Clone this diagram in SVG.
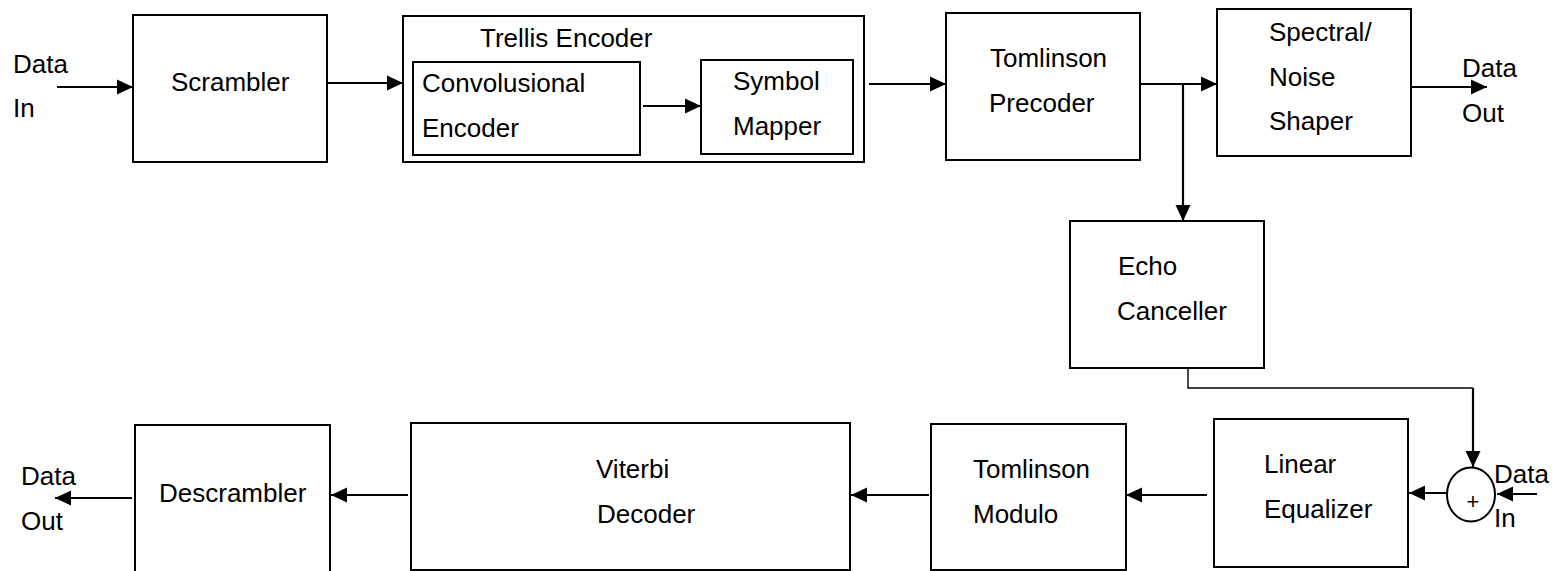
<svg xmlns="http://www.w3.org/2000/svg" width="1552" height="571" viewBox="0 0 1552 571">
  <style>
    .box { fill: #fff; stroke: #000; stroke-width: 2; }
    .lbl { font-family: "Liberation Sans", Arial, sans-serif; font-size: 26px; fill: #000; }
    .wire { fill: none; stroke: #000; stroke-width: 2.2; }
    .thin { fill: none; stroke: #000; stroke-width: 1.4; }
    .arr { marker-end: url(#head); }
  </style>
  <defs>
    <marker id="head" markerUnits="userSpaceOnUse" markerWidth="17" markerHeight="16" refX="16" refY="8" orient="auto">
      <path d="M0,0.5 L16,8 L0,15.5 z" fill="#000"/>
    </marker>
  </defs>
  <rect width="1552" height="571" fill="#fff"/>

  <!-- transmit path -->
  <g id="data-in-top">
    <text class="lbl" x="13" y="73">Data</text>
    <text class="lbl" x="13" y="117">In</text>
  </g>
  <g id="scrambler">
    <rect class="box" x="133" y="15" width="194" height="147"/>
    <text class="lbl" x="171" y="91">Scrambler</text>
  </g>
  <g id="trellis-encoder">
    <rect class="box" x="403" y="16" width="461" height="146"/>
    <text class="lbl" x="480" y="47">Trellis Encoder</text>
  </g>
  <g id="convolutional-encoder">
    <rect class="box" x="413" y="62" width="227" height="93"/>
    <text class="lbl" x="422" y="92">Convolusional</text>
    <text class="lbl" x="422" y="137">Encoder</text>
  </g>
  <g id="symbol-mapper">
    <rect class="box" x="701" y="60" width="152" height="94"/>
    <text class="lbl" x="733" y="90">Symbol</text>
    <text class="lbl" x="733" y="135">Mapper</text>
  </g>
  <g id="tomlinson-precoder">
    <rect class="box" x="946" y="13" width="194" height="147"/>
    <text class="lbl" x="990" y="67">Tomlinson</text>
    <text class="lbl" x="989" y="112">Precoder</text>
  </g>
  <g id="spectral-shaper">
    <rect class="box" x="1217" y="9" width="194" height="147"/>
    <text class="lbl" x="1269" y="41">Spectral/</text>
    <text class="lbl" x="1269" y="86">Noise</text>
    <text class="lbl" x="1269" y="130">Shaper</text>
  </g>
  <g id="data-out-top">
    <text class="lbl" x="1462" y="77">Data</text>
    <text class="lbl" x="1462" y="122">Out</text>
  </g>
  <g id="echo-canceller">
    <rect class="box" x="1070" y="221" width="194" height="147"/>
    <text class="lbl" x="1118" y="275">Echo</text>
    <text class="lbl" x="1117" y="320">Canceller</text>
  </g>

  <!-- receive path -->
  <g id="summer">
    <ellipse cx="1471" cy="494.5" rx="24" ry="27" fill="#fff" stroke="#000" stroke-width="2"/>
    <text x="1473" y="509" text-anchor="middle" style="font-family:'Liberation Sans', Arial, sans-serif; font-size:22px">+</text>
  </g>
  <g id="data-in-bottom">
    <text class="lbl" x="1494" y="483">Data</text>
    <text class="lbl" x="1494" y="527">In</text>
  </g>
  <g id="linear-equalizer">
    <rect class="box" x="1214" y="419" width="194" height="148"/>
    <text class="lbl" x="1264" y="473">Linear</text>
    <text class="lbl" x="1264" y="518">Equalizer</text>
  </g>
  <g id="tomlinson-modulo">
    <rect class="box" x="931" y="424" width="195" height="146"/>
    <text class="lbl" x="973" y="478">Tomlinson</text>
    <text class="lbl" x="973" y="523">Modulo</text>
  </g>
  <g id="viterbi-decoder">
    <rect class="box" x="411" y="423" width="439" height="147"/>
    <text class="lbl" x="596" y="478">Viterbi</text>
    <text class="lbl" x="597" y="523">Decoder</text>
  </g>
  <g id="descrambler">
    <rect class="box" x="135" y="425" width="195" height="160"/>
    <text class="lbl" x="159" y="502">Descrambler</text>
  </g>
  <g id="data-out-bottom">
    <text class="lbl" x="21" y="485">Data</text>
    <text class="lbl" x="21" y="530">Out</text>
  </g>

  <g id="connectors">
    <path class="wire arr" d="M57,87 H133"/>
    <path class="wire arr" d="M328,83 H403"/>
    <path class="wire arr" d="M643,106 H701"/>
    <path class="wire arr" d="M869,84 H946"/>
    <path class="wire arr" d="M1141,84 H1217"/>
    <path class="wire arr" d="M1183,84 V221"/>
    <path class="wire arr" d="M1412,87 H1487"/>
    <path class="thin" d="M1188,369 V388 H1473"/>
    <path class="wire arr" d="M1473,388 V467"/>
    <path class="wire arr" d="M1537,494 H1497"/>
    <path class="wire arr" d="M1447,493 H1409"/>
    <path class="wire arr" d="M1207,495 H1126"/>
    <path class="wire arr" d="M929,495 H851"/>
    <path class="wire arr" d="M408,495 H331"/>
    <path class="wire arr" d="M132,498 H55"/>
  </g>
</svg>
